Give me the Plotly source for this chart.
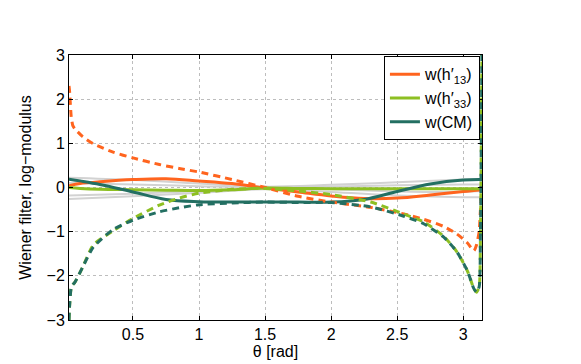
import plotly.graph_objects as go

# theta grids
theta_solid = [0.016, 0.1, 0.25, 0.5, 0.75, 1.0, 1.25, 1.5, 1.75, 2.0, 2.25, 2.5, 2.75, 3.0, 3.141]
theta_dash = [0.016, 0.02, 0.033, 0.045, 0.06, 0.12, 0.2, 0.35, 0.5, 0.7, 0.85, 1.0, 1.25, 1.5,
              1.75, 2.0, 2.3, 2.55, 2.7, 2.85, 2.95, 3.03, 3.08, 3.1, 3.12, 3.13, 3.141]
theta_gray = [0.016, 0.5, 1.0, 1.5, 2.0, 2.5, 3.0, 3.141]

# solid curves
w13 = [0.04, 0.09, 0.13, 0.18, 0.2, 0.15, 0.09, -0.01, -0.1, -0.19, -0.25, -0.24, -0.17, -0.09, -0.05]
w33 = [0.0, -0.02, -0.04, -0.05, -0.06, -0.07, -0.05, -0.01, -0.02, -0.03, -0.03, -0.03, -0.03, -0.03, -0.02]
wcm = [0.19, 0.15, 0.07, -0.1, -0.27, -0.32, -0.33, -0.33, -0.33, -0.33, -0.27, -0.09, 0.08, 0.17, 0.18]

# dashed curves
w13_d = [2.3, 2.19, 1.6, 1.4, 1.33, 1.15, 0.99, 0.8, 0.67, 0.52, 0.43, 0.35, 0.18, 0.0,
         -0.2, -0.33, -0.45, -0.6, -0.72, -0.88, -1.05, -1.25, -1.43, -1.3, -1.0, -0.5, 0.0]
w33_d = [-3.0, -2.7, -2.26, -2.2, -2.15, -1.8, -1.3, -0.98, -0.7, -0.4, -0.24, -0.13, -0.04, -0.02,
         -0.08, -0.16, -0.33, -0.6, -0.78, -1.1, -1.45, -1.88, -2.29, -2.37, -2.25, -1.0, 3.0]
wcm_d = [-3.0, -2.7, -2.26, -2.2, -2.15, -1.8, -1.35, -0.95, -0.74, -0.55, -0.46, -0.39, -0.35, -0.33,
         -0.34, -0.34, -0.44, -0.65, -0.82, -1.12, -1.45, -1.88, -2.29, -2.37, -2.25, -1.0, 3.0]

# gray background curves
gray_curves = [
    [0.22, 0.17, 0.09, 0.02, 0.06, 0.12, 0.18, 0.19],
    [0.1, 0.07, 0.03, 0.0, 0.02, 0.05, 0.07, 0.07],
    [-0.18, -0.14, -0.08, -0.02, -0.04, -0.09, -0.1, -0.08],
    [-0.26, -0.2, -0.12, -0.04, -0.1, -0.18, -0.22, -0.22],
]

orange = "#FF641E"
green = "#8DBF22"
teal = "#236F62"

fig = go.Figure()

for g in gray_curves:
    fig.add_trace(go.Scatter(x=theta_gray, y=g, mode="lines", showlegend=False,
                             line=dict(color="#D2D2D2", width=2, shape="spline")))

for y, c, name in [(w13, orange, "w(h′<sub>13</sub>)"), (w33, green, "w(h′<sub>33</sub>)"), (wcm, teal, "w(CM)")]:
    fig.add_trace(go.Scatter(x=theta_solid, y=y, mode="lines", name=name,
                             line=dict(color=c, width=3, shape="spline")))

for y, c in [(w13_d, orange), (w33_d, green), (wcm_d, teal)]:
    fig.add_trace(go.Scatter(x=theta_dash, y=y, mode="lines", showlegend=False,
                             line=dict(color=c, width=3, dash="7px,5px", shape="spline", smoothing=0.6)))

axis_common = dict(showline=True, linecolor="black", linewidth=1, mirror="ticks",
                   ticks="inside", ticklen=4, tickcolor="black", automargin=False,
                   showgrid=True, gridcolor="#BDBDBD", griddash="dot", gridwidth=1,
                   zeroline=False, tickfont=dict(size=16, color="black"))

fig.update_xaxes(range=[0.016, 3.1416], tickvals=[0.5, 1, 1.5, 2, 2.5, 3],
                 title=dict(text="θ [rad]", font=dict(size=16, color="black"), standoff=2),
                 **axis_common)
fig.update_yaxes(range=[-3, 3], tickvals=[-3, -2, -1, 0, 1, 2, 3],
                 title=dict(text="Wiener filter, log−modulus", font=dict(size=16, color="black"), standoff=10),
                 **axis_common)

fig.update_layout(
    width=581, height=364,
    margin=dict(l=69, r=99, t=55, b=44),
    plot_bgcolor="white", paper_bgcolor="white",
    font=dict(family="Liberation Sans, Arial, sans-serif", color="black"),
    legend=dict(x=0.995, y=0.995, xanchor="right", yanchor="top",
                bgcolor="white", bordercolor="black", borderwidth=1,
                font=dict(size=16), tracegroupgap=0, itemwidth=30),
)

# remove the default page margin so the figure sits at the window origin
fig.write_html("out.html", config={"displayModeBar": False},
               post_script="document.body.style.margin='0';")
